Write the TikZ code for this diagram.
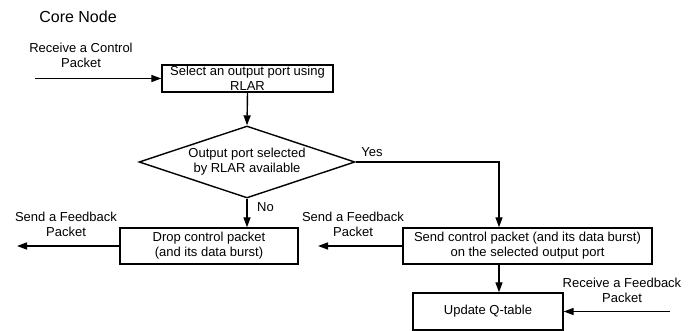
\documentclass[tikz,border=0pt]{standalone}
\usepackage{fontspec}
\setmainfont{Liberation Sans}
\usetikzlibrary{shapes.geometric,arrows.meta}
\begin{document}
\begin{tikzpicture}[x=1pt,y=-1pt,
  every node/.style={font=\fontsize{13}{15}\selectfont},
  box/.style={draw,line width=1.4pt,inner sep=0pt,align=center},
  lbl/.style={align=center,inner sep=0pt},
  arr/.style={line width=1.4pt,-{Triangle[length=10pt,width=7pt]}},
  ln/.style={line width=1.4pt}]
\useasboundingbox (0,0) rectangle (694,331);
\node[font=\fontsize{16}{18}\selectfont,inner sep=0pt] (core) at (78,17) {Core Node};
\node[box,minimum width=171pt,minimum height=27pt] (sel) at (247.5,78.5) {Select an output port using\\RLAR};
\node[box,diamond,shape aspect=3,minimum width=216pt,minimum height=72pt] (dec) at (247,162) {Output port selected\\by RLAR available};
\node[box,minimum width=178pt,minimum height=36pt] (drop) at (209,246) {Drop control packet\\(and its data burst)};
\node[box,minimum width=249pt,minimum height=36pt] (send) at (527.5,246) {Send control packet (and its data burst)\\on the selected output port};
\node[box,minimum width=150pt,minimum height=37pt] (upd) at (488,311.5) {Update Q-table};

\node[lbl] (rcvc) at (81,55) {Receive a Control\\Packet};
\node[lbl] (fb1) at (66,224) {Send a Feedback\\Packet};
\node[lbl] (fb2) at (353,224) {Send a Feedback\\Packet};
\node[lbl] (rfb) at (622,290) {Receive a Feedback\\Packet};
\node[lbl] (yes) at (372,152) {Yes};
\node[lbl,anchor=west] (no) at (257,207) {No};

\coordinate (in1) at (35,78.5);
\coordinate (out1) at (17,246);
\coordinate (out2) at (318,246);
\coordinate (in2) at (670,311.5);
\coordinate (ycorner) at (499,162);

\draw[arr] (in1) -- (sel.west);
\draw[arr] (sel.south) -- (dec.north);
\draw[arr] (dec.south) -- (dec.south |- drop.north);
\draw[arr] (dec.east) -- (ycorner) -- (ycorner |- send.north);
\draw[arr] (drop.west) -- (out1);
\draw[arr] (send.west) -- (out2);
\draw[arr] (ycorner |- send.south) -- (ycorner |- upd.north);
\draw[arr] (in2) -- (upd.east);
\end{tikzpicture}
\end{document}
